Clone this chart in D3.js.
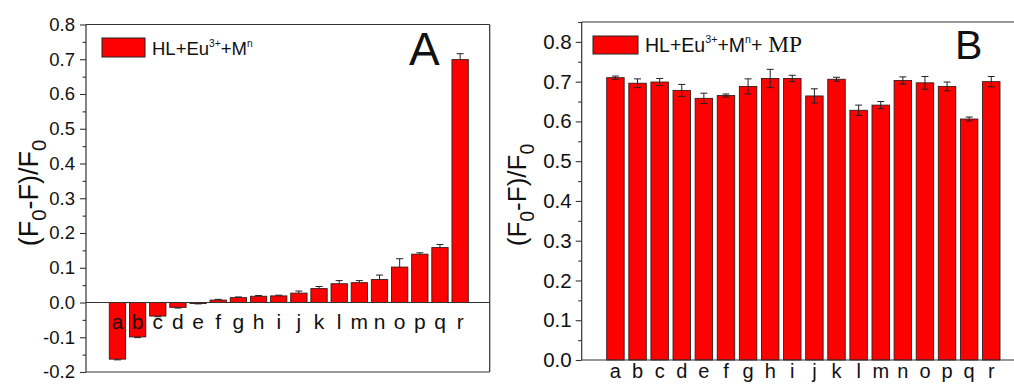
<!DOCTYPE html>
<html>
<head>
<meta charset="utf-8">
<script src="https://cdn.jsdelivr.net/npm/d3@7"></script>
<style>
  html, body { margin: 0; padding: 0; background: #fff; }
  svg { display: block; }
  text { font-family: "Liberation Sans", Arial, sans-serif; fill: #111; }
</style>
</head>
<body>
<svg id="chart" width="1014" height="387"></svg>
<script>
// Metal ions a–r
const categories = ["a","b","c","d","e","f","g","h","i","j","k","l","m","n","o","p","q","r"];

// Panel A: HL + Eu3+ + M^n
const valuesA = [-0.163,-0.099,-0.039,-0.014,-0.003,0.007,0.014,0.018,0.019,0.027,0.040,0.054,0.057,0.066,0.102,0.139,0.158,0.699];
const errorsA = [0.002,0.002,0.002,0.002,0.001,0.002,0.002,0.002,0.002,0.006,0.006,0.009,0.006,0.013,0.024,0.004,0.009,0.017];

// Panel B: HL + Eu3+ + M^n + MP
const valuesB = [0.710,0.696,0.699,0.678,0.658,0.665,0.688,0.708,0.708,0.664,0.706,0.628,0.641,0.703,0.697,0.688,0.606,0.700];
const errorsB = [0.004,0.011,0.009,0.015,0.013,0.004,0.019,0.023,0.008,0.018,0.005,0.013,0.009,0.009,0.016,0.011,0.005,0.013];

const yTicksA = [-0.2,-0.1,0.0,0.1,0.2,0.3,0.4,0.5,0.6,0.7,0.8];
const yTicksB = [0.0,0.1,0.2,0.3,0.4,0.5,0.6,0.7,0.8];

const svg = d3.select("#chart");
const fmt = d => d.toFixed(1);

function yTitle(g, x, y, size) {
  const t = g.append("text")
    .attr("transform", `translate(${x},${y}) rotate(-90)`)
    .attr("text-anchor", "middle")
    .style("font-size", size + "px");
  t.append("tspan").text("(F");
  t.append("tspan").text("0").attr("dy", size * 0.3).style("font-size", (size * 0.75) + "px");
  t.append("tspan").text("-F)/F").attr("dy", -size * 0.3);
  t.append("tspan").text("0").attr("dy", size * 0.3).style("font-size", (size * 0.75) + "px");
}

function legend(g, x, y, w, h, size, withMP) {
  g.append("rect").attr("x", x).attr("y", y).attr("width", w).attr("height", h)
    .attr("fill", "#ff0000").attr("stroke", "#222").attr("stroke-width", 1);
  const t = g.append("text").attr("x", x + w + 7).attr("y", y + h - 2).style("font-size", size + "px");
  t.append("tspan").text("HL+Eu");
  t.append("tspan").text("3+").attr("dy", -size * 0.45).style("font-size", (size * 0.55) + "px");
  t.append("tspan").text("+M").attr("dy", size * 0.45);
  t.append("tspan").text("n").attr("dy", -size * 0.45).style("font-size", (size * 0.55) + "px");
  if (withMP) {
    t.append("tspan").text("+").attr("dy", size * 0.45);
    t.append("tspan").text(" MP")
      .style("font-size", (size * 1.2) + "px")
      .style("font-family", "'Liberation Serif', 'Times New Roman', serif");
  }
}

function panel(opts) {
  const g = svg.append("g");
  const { left, top, bottom, domain, ticks, values, errors, bandRange,
          pad, tickFont, labelFont, labelY, errBoth, zeroLine, frameRight } = opts;

  const y = d3.scaleLinear().domain(domain).range([bottom, top]);
  const x = d3.scaleBand().domain(categories).range(bandRange).paddingInner(pad).paddingOuter(0);

  // bars
  g.selectAll("rect.bar").data(values).join("rect")
    .attr("class", "bar")
    .attr("x", (d, i) => x(categories[i]))
    .attr("width", x.bandwidth())
    .attr("y", d => y(Math.max(0, d)))
    .attr("height", d => Math.abs(y(d) - y(0)))
    .attr("fill", "#ff0000")
    .attr("stroke", "#3a1a1a")
    .attr("stroke-width", 0.9);

  // error bars
  const eb = g.selectAll("g.err").data(values).join("g").attr("class", "err");
  const cap = 3.5;
  eb.each(function(d, i) {
    const e = errors[i];
    const cx = x(categories[i]) + x.bandwidth() / 2;
    const sgn = d < 0 ? -1 : 1;
    const yEnd = y(d + sgn * e);
    const yStart = errBoth ? y(d - sgn * e) : y(d);
    const s = d3.select(this);
    s.append("line").attr("x1", cx).attr("x2", cx).attr("y1", yStart).attr("y2", yEnd)
      .attr("stroke", "#222").attr("stroke-width", 1);
    s.append("line").attr("x1", cx - cap).attr("x2", cx + cap).attr("y1", yEnd).attr("y2", yEnd)
      .attr("stroke", "#222").attr("stroke-width", 1);
    if (errBoth) {
      s.append("line").attr("x1", cx - cap).attr("x2", cx + cap).attr("y1", yStart).attr("y2", yStart)
        .attr("stroke", "#222").attr("stroke-width", 1);
    }
  });

  // frame
  g.append("line").attr("x1", left).attr("x2", frameRight).attr("y1", top).attr("y2", top)
    .attr("stroke", "#333").attr("stroke-width", 1.2);
  g.append("line").attr("x1", left).attr("x2", frameRight).attr("y1", bottom).attr("y2", bottom)
    .attr("stroke", "#333").attr("stroke-width", 1.2);
  if (frameRight < 1014) {
    g.append("line").attr("x1", frameRight).attr("x2", frameRight).attr("y1", top).attr("y2", bottom)
      .attr("stroke", "#333").attr("stroke-width", 1.2);
  }
  if (zeroLine) {
    g.append("line").attr("x1", left).attr("x2", frameRight).attr("y1", y(0)).attr("y2", y(0))
      .attr("stroke", "#333").attr("stroke-width", 1.2);
  }

  // minor ticks
  const minor = d3.range(domain[0] * 20, domain[1] * 20 + 0.5).map(v => v / 20)
    .filter(v => Math.abs(Math.round(v * 10) - v * 10) > 0.01);
  g.append("g").attr("transform", `translate(${left},0)`)
    .call(d3.axisLeft(y).tickValues(minor).tickSize(3.5).tickFormat(""))
    .call(a => a.select(".domain").remove())
    .call(a => a.selectAll("line").attr("stroke", "#333").attr("stroke-width", 1.1));

  // major ticks + labels
  const ax = g.append("g").attr("transform", `translate(${left},0)`)
    .call(d3.axisLeft(y).tickValues(ticks).tickSize(6).tickPadding(opts.tickPad).tickFormat(fmt));
  ax.select(".domain").attr("stroke", "#333").attr("stroke-width", 1.2)
    .attr("d", `M-0,${top}V${bottom}`);
  ax.selectAll("line").attr("stroke", "#333").attr("stroke-width", 1.1);
  ax.selectAll("text").style("font-size", tickFont + "px")
    .style("font-family", "'Liberation Sans', Arial, sans-serif").attr("fill", "#111");

  // category labels
  g.selectAll("text.cat").data(categories).join("text")
    .attr("class", "cat")
    .attr("x", d => x(d) + x.bandwidth() / 2)
    .attr("y", labelY)
    .attr("text-anchor", "middle")
    .style("font-size", labelFont + "px")
    .text(d => d);

  return g;
}

// ---- Panel A ----
const gA = panel({
  left: 86, frameRight: 489.7, top: 24.5, bottom: 372,
  domain: [-0.2, 0.8], ticks: yTicksA, values: valuesA, errors: errorsA,
  bandRange: [109.3, 468.3], pad: 0.19, tickFont: 18.5, tickPad: 5,
  labelFont: 21, labelY: 329, errBoth: false, zeroLine: true
});
yTitle(gA, 38, 193, 27);
legend(gA, 102, 38, 43, 19, 18.5, false);
gA.append("text").attr("x", 409).attr("y", 65).style("font-size", "46px").text("A");

// ---- Panel B ----
const gB = panel({
  left: 581.7, frameRight: 1016, top: 22, bottom: 360,
  domain: [0, 0.85], ticks: yTicksB, values: valuesB, errors: errorsB,
  bandRange: [606.7, 1000], pad: 0.21, tickFont: 20.5, tickPad: 4,
  labelFont: 20, labelY: 378, errBoth: true, zeroLine: false
});
yTitle(gB, 526, 195, 26);
legend(gB, 593, 36, 45, 18, 19.5, true);
gB.append("text").attr("x", 955).attr("y", 59).style("font-size", "41px").text("B");
</script>
</body>
</html>
